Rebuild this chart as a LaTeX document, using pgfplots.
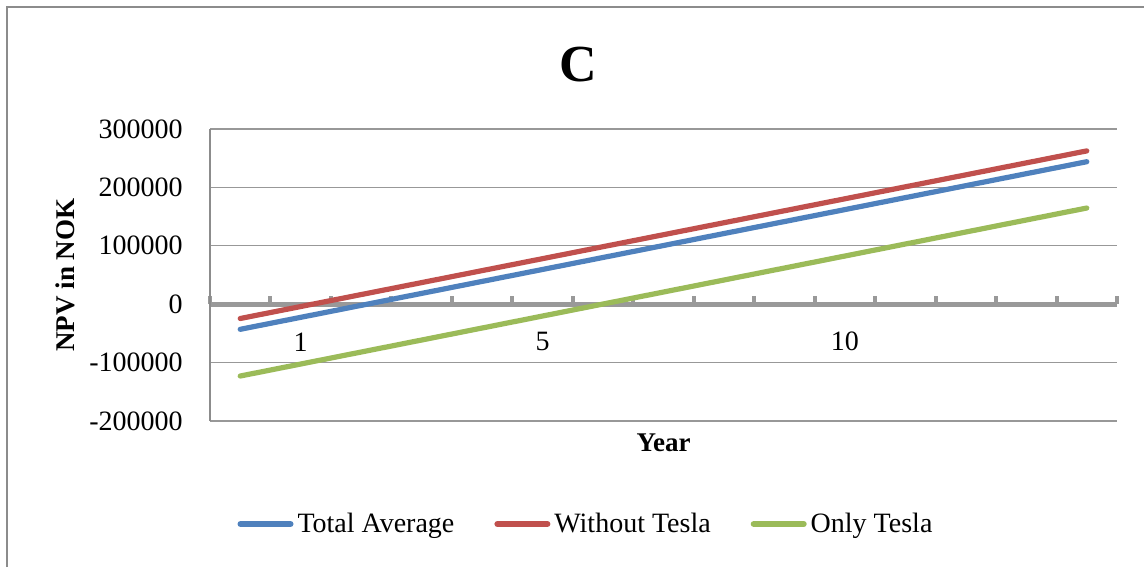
\documentclass[border=0pt]{standalone}
\usepackage{fontspec}
\setmainfont{Liberation Serif}
\usepackage{pgfplots}
\pgfplotsset{compat=1.18}
\definecolor{sblue}{HTML}{4F81BD}
\definecolor{sred}{HTML}{C0504D}
\definecolor{sgreen}{HTML}{9BBB59}
\definecolor{gridgray}{HTML}{989898}
\definecolor{axisgray}{HTML}{999999}
\definecolor{framegray}{HTML}{8C8C8C}
\begin{document}
\begin{tikzpicture}
\useasboundingbox (0,0) rectangle (572pt,283.5pt);
\draw[framegray, line width=0.7pt] (3.5pt,0) -- (3.5pt,280pt) -- (572pt,280pt);
\begin{axis}[
  at={(105pt,73pt)}, anchor=south west,
  scale only axis, width=453.5pt, height=146pt,
  xmin=-0.5, xmax=14.5, ymin=-200000, ymax=300000,
  axis x line=middle, axis y line=left,
  axis line style={-},
  x axis line style={line width=2.6pt, color=axisgray},
  y axis line style={line width=0.6pt, color=framegray},
  xtick={1,5,10}, xticklabels={1,5,10},
  minor xtick={-0.5,0.5,1.5,2.5,3.5,4.5,5.5,6.5,7.5,8.5,9.5,10.5,11.5,12.5,13.5,14.5},
  xtick align=inside,
  major tick length=0pt, minor tick length=4pt,
  every major x tick/.append style={draw=none},
  every minor x tick/.append style={line width=2pt, color=axisgray},
  ytick={-200000,-100000,0,100000,200000,300000},
  ytick style={draw=none},
  scaled y ticks=false,
  /pgf/number format/fixed,
  /pgf/number format/set thousands separator={},
  /pgf/number format/assume math mode=true,
  yticklabel style={anchor=east, inner sep=0pt, xshift=-13.5pt, font=\fontsize{14}{16}\selectfont},
  xticklabel style={anchor=center, inner sep=0pt, yshift=-18.8pt, font=\fontsize{14}{16}\selectfont},
  ymajorgrids, grid style={gridgray, line width=0.6pt},
  title={C},
  title style={at={(axis description cs:0.4057,1.178)}, anchor=center, font=\fontsize{26}{29}\selectfont\bfseries},
  ylabel={NPV in NOK},
  ylabel style={at={(axis description cs:-0.16,0.5)}, anchor=center, font=\fontsize{13.5}{16}\selectfont\bfseries},
  xlabel={Year},
  xlabel style={at={(axis description cs:0.5,-0.075)}, anchor=center, font=\fontsize{13.5}{16}\selectfont\bfseries},
  legend columns=3,
  legend style={at={(axis description cs:0.4156,-0.3527)}, anchor=center, draw=none, fill=none,
    font=\fontsize{14}{16}\selectfont, /tikz/every even column/.append style={column sep=18pt},
    inner sep=0pt},
  legend image code/.code={\draw[line width=3pt, line cap=round] (0pt,0pt) -- (25pt,0pt);},
]
\addplot[sblue, line width=2.6pt, line cap=round] coordinates {
(0,-43000) (1,-22500) (2,-2000) (3,18500) (4,39000) (5,59500) (6,80000) (7,100500)
(8,121000) (9,141500) (10,162000) (11,182500) (12,203000) (13,223500) (14,244000)};
\addlegendentry{Total Average}
\addplot[sred, line width=2.6pt, line cap=round] coordinates {
(0,-24500) (1,-4000) (2,16500) (3,37000) (4,57500) (5,78000) (6,98500) (7,119000)
(8,139500) (9,160000) (10,180500) (11,201000) (12,221500) (13,242000) (14,262500)};
\addlegendentry{Without Tesla}
\addplot[sgreen, line width=2.6pt, line cap=round] coordinates {
(0,-123000) (1,-102450) (2,-81900) (3,-61350) (4,-40800) (5,-20250) (6,300) (7,20850)
(8,41400) (9,61950) (10,82500) (11,103050) (12,123600) (13,144150) (14,164700)};
\addlegendentry{Only Tesla}
\end{axis}
\end{tikzpicture}
\end{document}
